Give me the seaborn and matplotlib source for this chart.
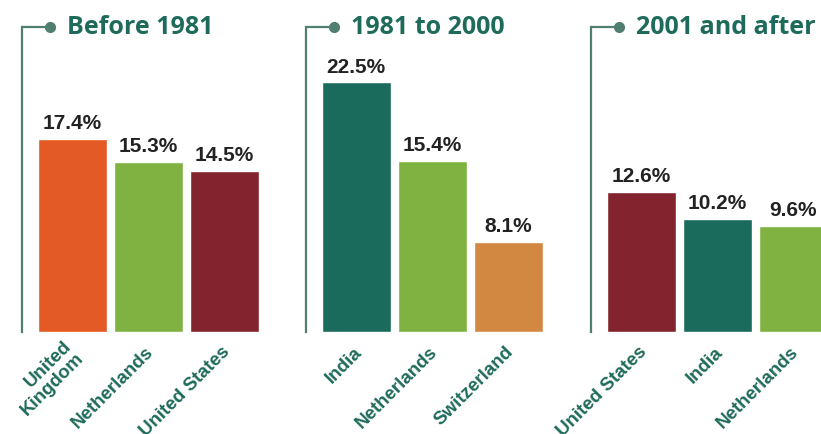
import matplotlib
matplotlib.use("Agg")
import matplotlib.pyplot as plt
import matplotlib.transforms as mtransforms
import pandas as pd
import seaborn as sns
from matplotlib import font_manager

# dane
titles = ["Before 1981", "1981 to 2000", "2001 and after"]
countries_1 = ["United\nKingdom", "Netherlands", "United States"]
values_1 = [17.4, 15.3, 14.5]
countries_2 = ["India", "Netherlands", "Switzerland"]
values_2 = [22.5, 15.4, 8.1]
countries_3 = ["United States", "India", "Netherlands"]
values_3 = [12.6, 10.2, 9.6]

colors_1 = ["#E35A24", "#7FB241", "#82232D"]
colors_2 = ["#1B6B5D", "#7FB241", "#D38841"]
colors_3 = ["#82232D", "#1B6B5D", "#7FB241"]

TEAL = "#1F6B5B"
LINE = "#4F7F71"

sns.set_theme(style="white")
names = {f.name for f in font_manager.fontManager.ttflist}
narrow = "Liberation Sans Narrow" if "Liberation Sans Narrow" in names else "Liberation Sans"
plt.rcParams['font.family'] = ['Open Sans', 'DejaVu Sans']

W, H = 821, 435
fig = plt.figure(figsize=(W / 100, H / 100), dpi=100)

base_y = 333      # px od góry
top_y = 28
px_per_unit = 11.09
step = 76.0
panel_x = [22, 306, 591]
panel_w = 250

panels = [(countries_1, values_1, colors_1),
          (countries_2, values_2, colors_2),
          (countries_3, values_3, colors_3)]

for i, (cats, vals, cols) in enumerate(panels):
    left = panel_x[i]
    ax = fig.add_axes([left / W, (H - base_y) / H, panel_w / W, (base_y - top_y) / H])
    df = pd.DataFrame({"kraj": [f"{j}" for j in range(3)], "val": vals})
    sns.barplot(data=df, x="kraj", y="val", hue="kraj", palette=cols,
                legend=False, width=69 / step, saturation=1, ax=ax)
    x0 = -50 / step
    ax.set_xlim(x0, x0 + panel_w / step)
    ax.set_ylim(0, (base_y - top_y) / px_per_unit)
    for c in ax.containers:
        ax.bar_label(c, fmt="%.1f%%", padding=5, fontsize=15, fontweight="bold",
                     color="#222222", family=narrow)
    ax.set_ylabel("")
    ax.set_xlabel("")
    ax.set_yticks([])
    ax.set_xticks(range(3))
    ax.set_xticklabels(cats, rotation=45, ha="right", va="center",
                       rotation_mode="anchor", fontsize=13.5, fontweight="bold",
                       color=TEAL, family=narrow, multialignment="right",
                       linespacing=1.0)
    ax.tick_params(axis="x", length=0, pad=12)
    off = mtransforms.ScaledTranslation(3 / 100, 0, fig.dpi_scale_trans)
    for lab in ax.get_xticklabels():
        lab.set_transform(lab.get_transform() + off)
    for s in ["top", "right", "bottom"]:
        ax.spines[s].set_visible(False)
    ax.spines["left"].set_color(LINE)
    ax.spines["left"].set_linewidth(1.6)
    # linia z kropką i tytuł
    ax.plot([0, 28 / panel_w], [1, 1], transform=ax.transAxes, color=LINE,
            lw=1.6, clip_on=False, solid_capstyle="butt")
    ax.plot([28 / panel_w], [1], transform=ax.transAxes, marker="o", ms=7,
            color=LINE, clip_on=False)
    ax.text(45 / panel_w, 1, titles[i], transform=ax.transAxes, ha="left",
            va="center", fontsize=18, fontweight="bold", color=TEAL)

fig.savefig("out.png", dpi=100)
